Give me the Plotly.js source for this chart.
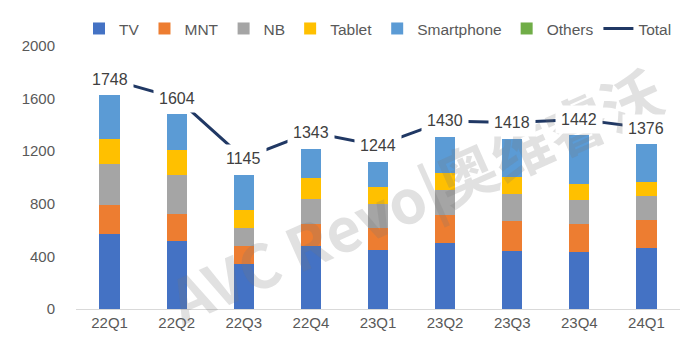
<!DOCTYPE html>
<html>
<head>
<meta charset="utf-8">
<script src="https://cdn.plot.ly/plotly-3.0.1.min.js"></script>
<style>
html,body{margin:0;padding:0;background:#fff;}
#chart{width:694px;height:354px;}
</style>
</head>
<body>
<div id="chart"></div>
<script>
const quarters = ["22Q1","22Q2","22Q3","22Q4","23Q1","23Q2","23Q3","23Q4","24Q1"];
const tv         = [574, 519, 339, 476, 452, 499, 439, 431, 464];
const mnt        = [215, 205, 143, 168, 167, 215, 230, 213, 210];
const nb         = [317, 295, 137, 195, 180, 192, 204, 187, 182];
const tablet     = [187, 192, 132, 154, 125, 125, 128, 120, 112];
const smartphone = [332, 269, 268, 225, 194, 275, 292, 372, 287];
const others     = [0, 0, 0, 0, 0, 0, 0, 0, 0];
const total      = [1748, 1604, 1145, 1343, 1244, 1430, 1418, 1442, 1376];
const yTicks     = [0, 400, 800, 1200, 1600, 2000];

const font = "Liberation Sans, Arial, sans-serif";
const barSeries = [
  {name: "TV", y: tv, color: "#4472C4"},
  {name: "MNT", y: mnt, color: "#ED7D31"},
  {name: "NB", y: nb, color: "#A5A5A5"},
  {name: "Tablet", y: tablet, color: "#FFC000"},
  {name: "Smartphone", y: smartphone, color: "#5B9BD5"},
  {name: "Others", y: others, color: "#70AD47"}
];
const traces = barSeries.map(s => ({
  type: "bar", name: s.name, x: quarters, y: s.y,
  marker: {color: s.color}, hoverinfo: "skip"
}));
traces.push({
  type: "scatter", mode: "lines", name: "Total", x: quarters, y: total,
  line: {color: "#203864", width: 3}, hoverinfo: "skip"
});

const annotations = [{
  xref: "paper", yref: "paper", x: 0.56, y: 0.44,
  text: "AVC Revo|奥维睿沃", showarrow: false, textangle: -24,
  font: {family: "Noto Sans CJK SC, Liberation Sans, sans-serif", size: 60, color: "rgba(120,120,120,0.22)", weight: 700}
}];
quarters.forEach((q, i) => {
  annotations.push({
    x: q, y: total[i], xref: "x", yref: "y", text: String(total[i]),
    showarrow: false, bgcolor: "#ffffff", borderpad: 5,
    font: {family: font, size: 16, color: "#404040"}
  });
});

const layout = {
  width: 694, height: 354,
  margin: {l: 76, r: 14, t: 40, b: 45},
  paper_bgcolor: "#fff", plot_bgcolor: "#fff",
  barmode: "stack", bargap: 0.7,
  font: {family: font, size: 15, color: "#595959"},
  showlegend: true,
  legend: {orientation: "h", x: 0.005, xanchor: "left", y: 1.065, yanchor: "middle",
           traceorder: "normal", font: {family: font, size: 15.5, color: "#595959"},
           itemwidth: 30, bgcolor: "rgba(0,0,0,0)"},
  xaxis: {type: "category", showgrid: false, showline: true, linecolor: "#D9D9D9", linewidth: 1,
          ticks: "", tickfont: {family: font, size: 15, color: "#595959"}},
  yaxis: {range: [0, 2000], tickvals: yTicks, showgrid: false, zeroline: false, showline: false,
          ticks: "", ticklabelstandoff: 20, tickfont: {family: font, size: 15, color: "#595959"}},
  annotations: annotations
};
Plotly.newPlot("chart", traces, layout, {displayModeBar: false, staticPlot: true});
</script>
</body>
</html>
